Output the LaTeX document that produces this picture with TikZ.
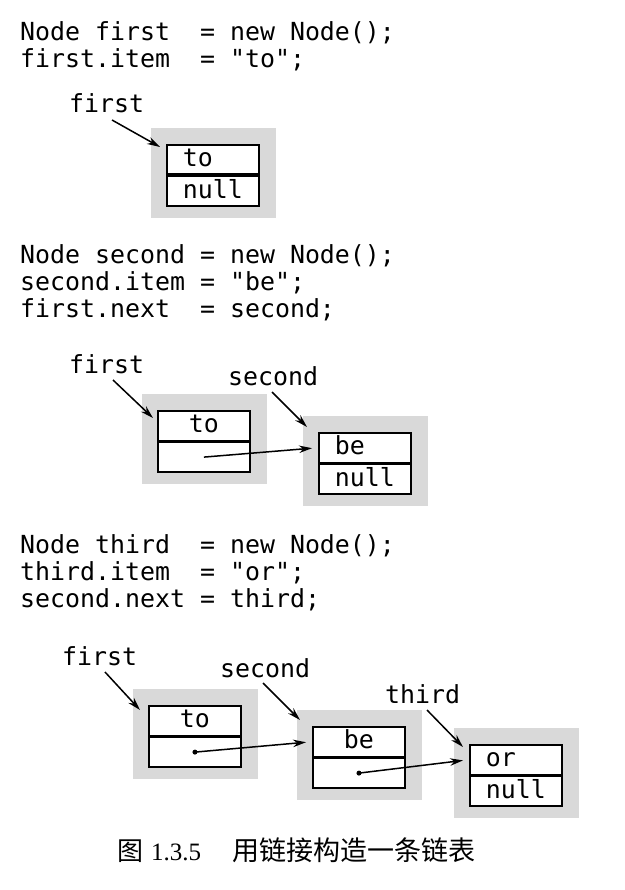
\documentclass[tikz,border=0pt]{standalone}
\usepackage{fontspec}
\setmonofont{DejaVu Sans Mono}
\newfontfamily\cjk{Noto Sans CJK SC}
\newfontfamily\capserif{Liberation Serif}
\usetikzlibrary{arrows.meta,calc,backgrounds}

\definecolor{boxgray}{gray}{0.85}

\tikzset{
  code/.style={anchor=base west, inner sep=0pt,
    font=\ttfamily\fontsize{24.9}{27}\selectfont},
  cell/.style={draw, line width=1.9pt, fill=white,
    inner ysep=0pt, inner xsep=16pt, text width=60pt,
    text height=22pt, text depth=7.5pt, align=left,
    font=\ttfamily\fontsize{24.9}{27}\selectfont},
  cellc/.style={cell, align=center},
  ptr/.style={-{Stealth[length=13pt,width=7.5pt]}, line width=1.5pt},
  dot/.style={circle, fill, inner sep=0pt, minimum size=5pt},
  caption/.style={anchor=base west, inner sep=0pt}
}

\begin{document}
\begin{tikzpicture}[x=1pt,y=-1pt]
\useasboundingbox (0,0) rectangle (624,890);

% ---------- step 1: create first ----------
\node[code] (c11) at (20,41) {Node first~ = new Node();};
\node[code] (c12) at (20,68) {first.item~ = "to";};

\node[cell, anchor=north west] (a1) at (166,144) {to};
\node[cell, anchor=north] (a1n) at (a1.south) {null};
\node[code] (l1) at (69,113) {first};

\coordinate (p1s) at ($(l1.base west)+(43,7)$);
\coordinate (p1e) at ($(a1.north west)+(-6,3)$);
\draw[ptr] (p1s) -- (p1e);

% ---------- step 2: create second and link ----------
\node[code] (c21) at (20,263) {Node second = new Node();};
\node[code] (c22) at (20,290) {second.item = "be";};
\node[code] (c23) at (20,317) {first.next~ = second;};

\node[cellc, anchor=north west] (b2a) at (157,410) {to};
\node[cell, anchor=north] (b2an) at (b2a.south) {};
\node[cell, anchor=north west] (b2b) at (318,432) {be};
\node[cell, anchor=north] (b2bn) at (b2b.south) {null};
\node[code] (l21) at (69,373) {first};
\node[code] (l22) at (228,385) {second};

\coordinate (p21s) at ($(l21.base west)+(44,7)$);
\coordinate (p21e) at ($(b2a.north west)+(-4,8)$);
\draw[ptr] (p21s) -- (p21e);
\coordinate (p22s) at ($(l22.base west)+(44,7)$);
\coordinate (p22e) at ($(b2b.north west)+(-11,-5)$);
\draw[ptr] (p22s) -- (p22e);
\draw[ptr, shorten >=6pt] (b2an.center) -- (b2b.west);

% ---------- step 3: create third and link ----------
\node[code] (c31) at (20,553) {Node third~ = new Node();};
\node[code] (c32) at (20,580) {third.item~ = "or";};
\node[code] (c33) at (20,607) {second.next = third;};

\node[cellc, anchor=north west] (c3a) at (148,705) {to};
\node[cell, anchor=north] (c3an) at (c3a.south) {};
\node[cellc, anchor=north west] (c3b) at (312,726) {be};
\node[cell, anchor=north] (c3bn) at (c3b.south) {};
\node[cell, anchor=north west] (c3c) at (469,744) {or};
\node[cell, anchor=north] (c3cn) at (c3c.south) {null};
\node[code] (l31) at (62,665) {first};
\node[code] (l32) at (220,677) {second};
\node[code] (l33) at (385,703) {third};

\coordinate (p31s) at ($(l31.base west)+(43,7)$);
\coordinate (p31e) at ($(c3a.north west)+(-8,5)$);
\draw[ptr] (p31s) -- (p31e);
\coordinate (p32s) at ($(l32.base west)+(43,6)$);
\coordinate (p32e) at ($(c3b.north west)+(-12,-6)$);
\draw[ptr] (p32s) -- (p32e);
\coordinate (p33s) at ($(l33.base west)+(42,7)$);
\coordinate (p33e) at ($(c3c.north west)+(-6,3)$);
\draw[ptr] (p33s) -- (p33e);

\node[dot] (d3a) at (c3an.center) {};
\node[dot] (d3b) at (c3bn.center) {};
\draw[ptr, shorten >=6pt] (d3a.center) -- (c3b.west);
\draw[ptr, shorten >=6pt] (d3b.center) -- (c3c.west);

% ---------- shaded frames behind every list node ----------
\begin{pgfonlayer}{background}
  \foreach \top/\bot in {a1/a1n, b2a/b2an, b2b/b2bn, c3a/c3an, c3b/c3bn, c3c/c3cn}
    \fill[boxgray] ($(\top.north west)+(-15,-16)$) rectangle ($(\bot.south east)+(16,11)$);
\end{pgfonlayer}

% ---------- caption ----------
\node[caption] (capnum) at (117,860)
  {{\cjk\fontsize{26}{26}\selectfont 图}\hspace{8pt}{\capserif\fontsize{25}{25}\selectfont 1.3.5}};
\node[caption] (captext) at (232,860)
  {\cjk\fontsize{27}{27}\selectfont 用链接构造一条链表};
\end{tikzpicture}
\end{document}
